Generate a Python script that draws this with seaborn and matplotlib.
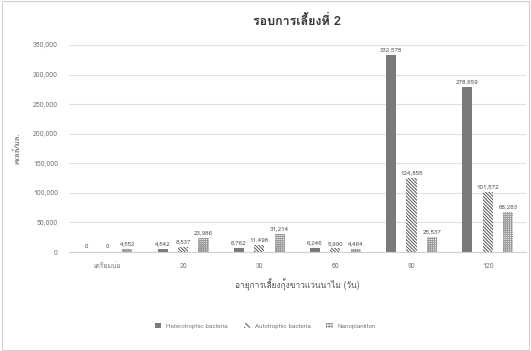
import pandas as pd
import matplotlib
matplotlib.use('Agg')
import matplotlib.pyplot as plt
import seaborn as sns
from matplotlib import font_manager
from matplotlib.ft2font import FT2Font
from matplotlib.patches import Rectangle

# data
ages = ['เตรียมบ่อ', '20', '30', '60', '90', '120']
hetero = [0, 4542, 6762, 6246, 332578, 278659]
auto = [0, 8537, 11498, 5990, 124855, 101572]
nano = [4552, 23986, 31214, 4464, 25537, 68283]
series = ['Heterotrophic bacteria', 'Autotrophic bacteria', 'Nanoplankton']

title = 'รอบการเลี้ยงที่ 2'
xlabel = 'อายุการเลี้ยงกุ้งขาวแวนนาไม (วัน)'
ylabel = 'เซลล์/มล.'

df = pd.DataFrame({
    'age': ages * 3,
    'value': hetero + auto + nano,
    'group': [series[0]] * 6 + [series[1]] * 6 + [series[2]] * 6,
})

# find a font that has Thai glyphs
thai_font = None
for f in font_manager.fontManager.ttflist:
    try:
        if FT2Font(f.fname).get_char_index(ord('ก')):
            thai_font = f.name
            break
    except Exception:
        pass

sns.set_style('white')
fams = [thai_font, 'DejaVu Sans'] if thai_font else ['DejaVu Sans']
plt.rcParams['font.family'] = fams
plt.rcParams['hatch.linewidth'] = 0.7

fig = plt.figure(figsize=(5.31, 3.51), dpi=100)
ax = fig.add_axes([0.13, 0.282, 0.86, 0.59])

sns.barplot(data=df, x='age', y='value', hue='group', order=ages,
            hue_order=series, width=0.8, gap=0.5, ax=ax,
            palette=['#7a7a7a', 'white', 'white'], legend=False)

hatches = ['', '\\' * 10, '+' * 8]
edge = ['#7a7a7a', '#555555', '#999999']
for i, cont in enumerate(ax.containers):
    for p in cont:
        p.set_hatch(hatches[i])
        p.set_edgecolor(edge[i])
        p.set_linewidth(0)
    ax.bar_label(cont, labels=[f'{v:,.0f}' for v in cont.datavalues],
                 fontsize=4.5, color='#555555', padding=2)

ax.set_ylim(0, 350000)
ax.set_yticks(range(0, 350001, 50000))
ax.yaxis.set_major_formatter(matplotlib.ticker.FuncFormatter(lambda v, p: f'{v:,.0f}'))
ax.grid(axis='y', color='#e0e0e0', linewidth=0.8)
ax.set_axisbelow(True)
sns.despine(ax=ax, left=True, bottom=False)
ax.spines['bottom'].set_color('#d0d0d0')
ax.tick_params(axis='both', length=0, labelsize=5, colors='#777777', pad=8)

ax.set_title(title, fontsize=9, color='#333333', pad=14, fontweight='bold')
ax.set_xlabel(xlabel, fontsize=6, color='#555555', labelpad=6)
ax.set_ylabel(ylabel, fontsize=5.5, color='#555555', labelpad=8)

handles = [Rectangle((0, 0), 1, 1, facecolor='#7a7a7a', edgecolor='#7a7a7a', linewidth=0),
           Rectangle((0, 0), 1, 1, facecolor='white', edgecolor='#555555', hatch='\\' * 6, linewidth=0),
           Rectangle((0, 0), 1, 1, facecolor='white', edgecolor='#999999', hatch='+' * 6, linewidth=0)]
fig.legend(handles, series, loc='center', bbox_to_anchor=(0.5, 0.072), ncol=3,
           frameon=False, fontsize=4.5, labelcolor='#777777',
           handlelength=1.0, handleheight=1.0, columnspacing=2.5)

fig.add_artist(Rectangle((0.003, 0.003), 0.994, 0.994, transform=fig.transFigure,
                         fill=False, edgecolor='#d0d0d0', linewidth=0.8))

fig.savefig('out.png', dpi=100)
